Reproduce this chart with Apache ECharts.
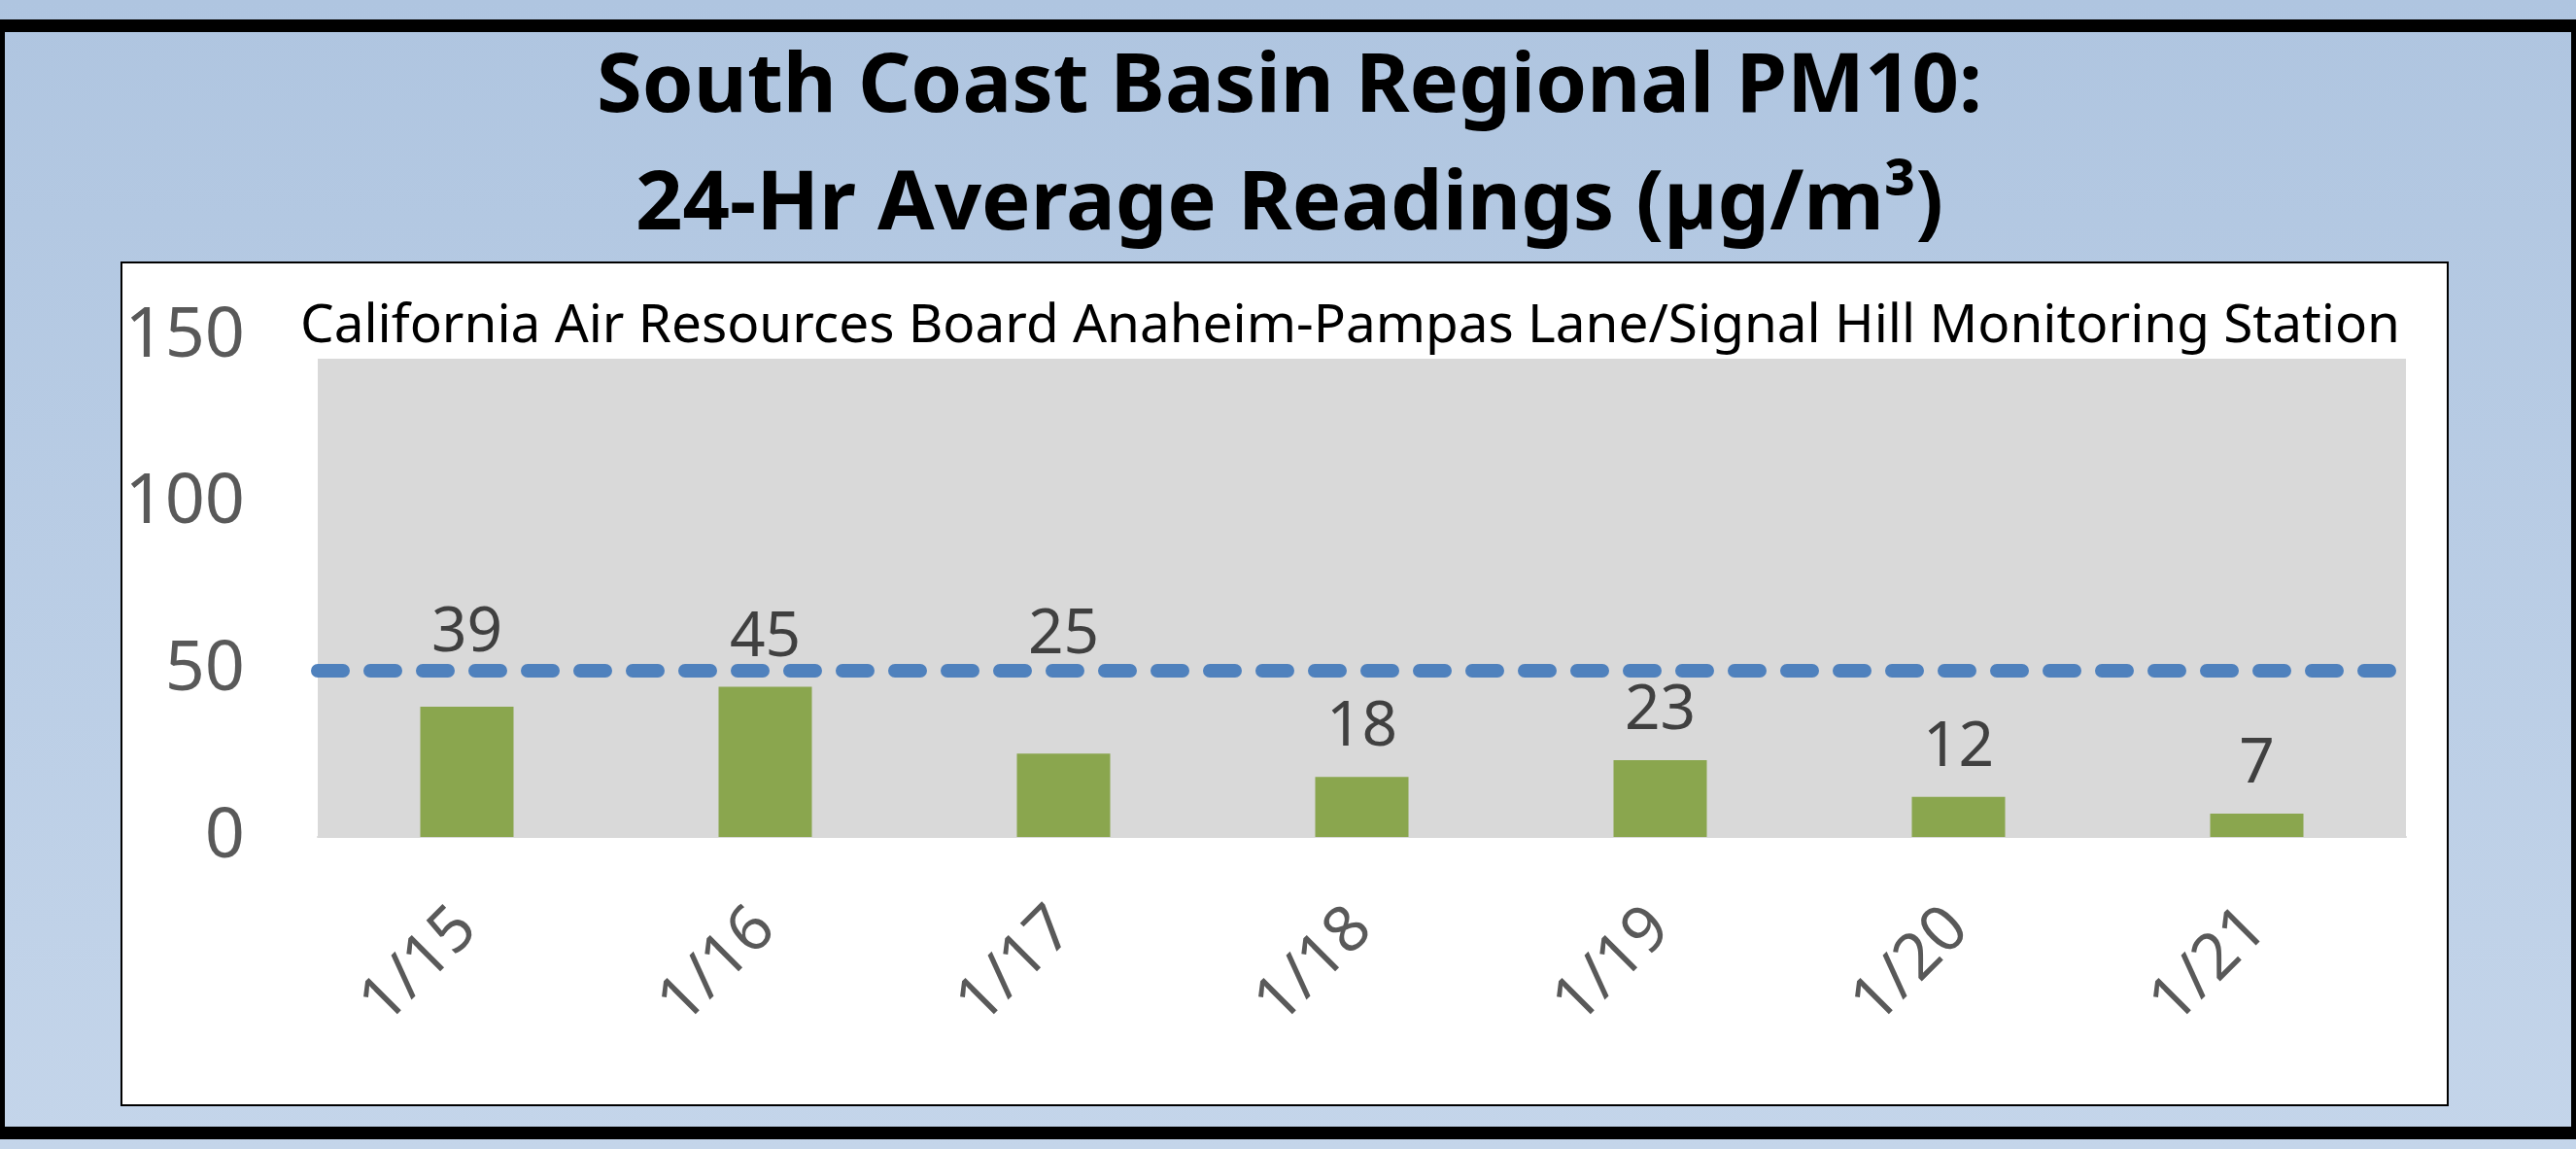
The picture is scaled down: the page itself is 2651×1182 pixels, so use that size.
<!DOCTYPE html>
<html>
<head>
<meta charset="utf-8">
<script src="https://cdn.jsdelivr.net/npm/echarts@6/dist/echarts.min.js"></script>
<style>
  html, body { margin: 0; padding: 0; overflow: hidden; }
  #main { width: 2651px; height: 1182px; }
</style>
</head>
<body>
<div id="main"></div>
<script>
// data
var categories = ['1/15', '1/16', '1/17', '1/18', '1/19', '1/20', '1/21'];
var readings = [39, 45, 25, 18, 23, 12, 7];
var standardLevel = 50;          // 24-hr PM10 standard, dashed line
var yMin = 0, yMax = 150, yStep = 50;

var titleLines = ['South Coast Basin Regional PM10:', '24-Hr Average Readings (\u00b5g/m\u00b3)'];
var subtitle = 'California Air Resources Board Anaheim-Pampas Lane/Signal Hill Monitoring Station';

(function () {
    var FONT = "'Noto Sans', 'Open Sans', sans-serif";

    // size a font so that a text spans a given width
    var ctx = document.createElement('canvas').getContext('2d');
    function fitSize(text, weight, width) {
        ctx.font = weight + ' 100px ' + FONT;
        return 100 * width / ctx.measureText(text).width;
    }
    var titleSize = fitSize(titleLines[0], 'bold', 1426);
    var subSize = fitSize(subtitle, 'normal', 2162);

    // labels Excel nudged up above the dashed line
    var labelLift = { 0: -25, 2: -71 };

    var barData = readings.map(function (v, i) {
        var item = { value: v };
        if (labelLift[i]) item.label = { offset: [0, labelLift[i]] };
        return item;
    });

    var chart = echarts.init(document.getElementById('main'));
    var option = {
        animation: false,
        textStyle: { fontFamily: FONT },
        graphic: [
            {   // page background
                type: 'rect', z: -100, silent: true,
                shape: { x: 0, y: 0, width: 2651, height: 1182 },
                style: {
                    fill: new echarts.graphic.LinearGradient(0, 0, 0, 1, [
                        { offset: 0, color: '#AFC5E0' },
                        { offset: 1, color: '#C4D5EA' }
                    ])
                }
            },
            // black frame
            { type: 'rect', z: -90, silent: true, shape: { x: 0, y: 20, width: 2651, height: 13 }, style: { fill: '#000' } },
            { type: 'rect', z: -90, silent: true, shape: { x: 0, y: 1159, width: 2651, height: 13 }, style: { fill: '#000' } },
            { type: 'rect', z: -90, silent: true, shape: { x: 0, y: 20, width: 5, height: 1152 }, style: { fill: '#000' } },
            { type: 'rect', z: -90, silent: true, shape: { x: 2646, y: 20, width: 5, height: 1152 }, style: { fill: '#000' } },
            {   // white chart box
                type: 'rect', z: -80, silent: true,
                shape: { x: 125, y: 270, width: 2394, height: 867 },
                style: { fill: '#fff', stroke: '#000', lineWidth: 2 }
            }
        ],
        title: [
            {
                text: titleLines.join('\n'),
                left: 1322,
                top: 25,
                textAlign: 'center',
                textStyle: {
                    fontFamily: FONT,
                    fontWeight: 'bold',
                    fontSize: titleSize,
                    lineHeight: 121,
                    color: '#000'
                }
            },
            {
                text: subtitle,
                left: 304,
                top: 331 - 35,
                textStyle: {
                    fontFamily: FONT,
                    fontWeight: 'normal',
                    fontSize: subSize,
                    lineHeight: 70,
                    color: '#000'
                }
            }
        ],
        grid: {
            left: 327,
            right: 175,
            top: 346,
            bottom: 321
        },
        xAxis: {
            type: 'category',
            data: categories,
            axisLine: { lineStyle: { color: '#D9D9D9', width: 2 } },
            axisTick: { length: 23, lineStyle: { color: '#D9D9D9', width: 2 } },
            axisLabel: {
                rotate: 45,
                margin: 84,
                fontSize: 66,
                color: '#595959',
                fontFamily: FONT
            }
        },
        yAxis: {
            type: 'value',
            min: yMin,
            max: yMax,
            interval: yStep,
            axisLine: { show: false },
            axisTick: { show: false },
            splitLine: { show: false },
            axisLabel: {
                margin: 75,
                fontSize: 72,
                color: '#595959',
                fontFamily: FONT
            }
        },
        series: [
            {
                name: 'PM10',
                type: 'bar',
                data: barData,
                barWidth: 96,
                itemStyle: { color: '#8AA64E' },
                label: {
                    show: true,
                    position: 'top',
                    distance: 18,
                    fontSize: 64,
                    color: '#404040',
                    fontFamily: FONT
                },
                markArea: {
                    silent: true,
                    itemStyle: { color: '#D9D9D9' },
                    data: [[{ yAxis: yMin }, { yAxis: 143.3 }]]
                },
                markLine: {
                    silent: true,
                    symbol: ['none', 'none'],
                    label: { show: false },
                    lineStyle: {
                        color: '#4F81BD',
                        width: 14,
                        type: [26, 28],
                        cap: 'round'
                    },
                    data: [{ yAxis: standardLevel }]
                }
            }
        ]
    };
    chart.setOption(option);
})();
</script>
</body>
</html>
